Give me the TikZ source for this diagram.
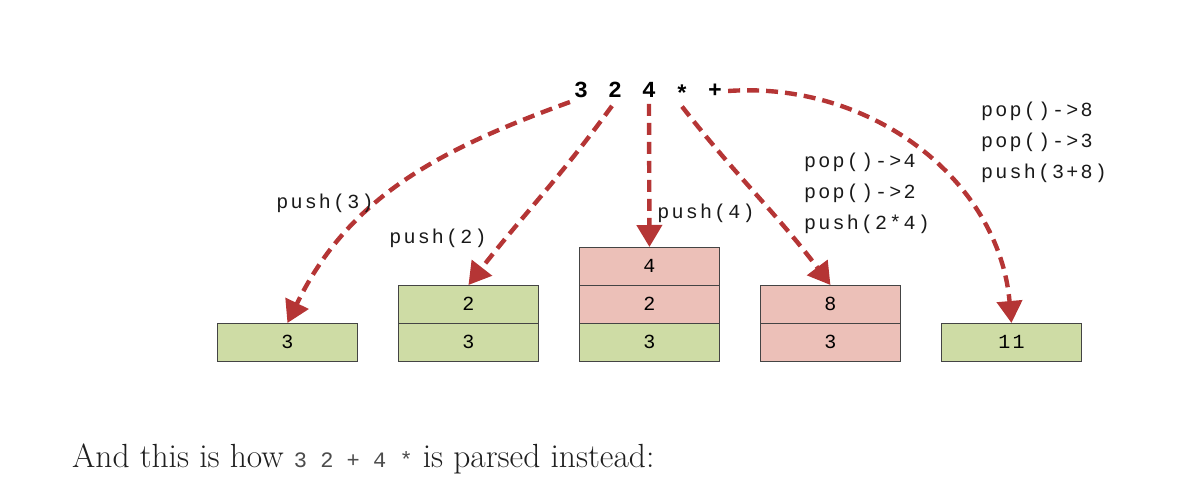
\documentclass[tikz,border=0pt]{standalone}
\usepackage{fontspec}
\usetikzlibrary{arrows.meta}
\newfontfamily\codefont{Liberation Mono}
\newfontfamily\spcode[LetterSpace=11]{Liberation Mono}
\definecolor{cellgreen}{HTML}{CEDCA5}
\definecolor{cellpink}{HTML}{ECC0B8}
\definecolor{arrred}{HTML}{B53535}
\definecolor{celledge}{HTML}{444444}
\begin{document}
\begin{tikzpicture}[x=1pt,y=-1pt,
  cell/.style={draw=celledge,line width=0.9pt,minimum width=140pt,minimum height=37.7pt,inner sep=0pt,anchor=north west,font=\spcode\fontsize{20}{20}\selectfont},
  gcell/.style={cell,fill=cellgreen},
  pcell/.style={cell,fill=cellpink},
  tok/.style={font=\codefont\bfseries\fontsize{23}{23}\selectfont,inner sep=2pt},
  lbl/.style={font=\spcode\fontsize{20}{20}\selectfont,inner sep=0pt,text=black!90},
  mlbl/.style={lbl,align=left,anchor=north west},
  flow/.style={draw=arrred,line width=4.4pt,dash pattern=on 12pt off 7pt,-{Triangle[length=22pt,width=25pt]}}]
\useasboundingbox (0,0) rectangle (1184,490);
% tokens
\node[tok] (t3) at (581,90) {3};
\node[tok] (t2) at (615,90) {2};
\node[tok] (t4) at (649,90) {4};
\node[tok] (tm) at (682,93) {*};
\node[tok] (tp) at (715,91) {+};
% stacks
\node[gcell] (a1) at (217,323) {3};
\node[gcell] (b2) at (398,285) {2};
\node[gcell] (b1) at (398,323) {3};
\node[pcell] (c3) at (579,247) {4};
\node[pcell] (c2) at (579,285) {2};
\node[gcell] (c1) at (579,323) {3};
\node[pcell] (d2) at (760,285) {8};
\node[pcell] (d1) at (760,323) {3};
\node[gcell] (e1) at (941,323) {11};
% arrows
\draw[flow] ([xshift=-2pt,yshift=-2pt]t3.south west) to[out=200,in=64] (a1.north);
\draw[flow] ([xshift=-3pt,yshift=-6pt]t2.south) to[out=234,in=52] (b2.north);
\draw[flow] ([yshift=-4pt]t4.south) -- (c3.north);
\draw[flow] ([yshift=-3pt]tm.south) to[out=-52,in=127] (d2.north);
\draw[flow] ([xshift=4pt]tp.east) to[out=4,in=95] (e1.north);
% labels
\node[lbl] (l1) at (325,203) {push(3)};
\node[lbl] (l2) at (438,238) {push(2)};
\node[lbl] (l3) at (706,213) {push(4)};
\node[mlbl] (l4) at (804,153) {pop()->4\\[11pt]pop()->2\\[11pt]push(2*4)};
\node[mlbl] (l5) at (981,102) {pop()->8\\[11pt]pop()->3\\[11pt]push(3+8)};
% caption
\node[anchor=base west,inner sep=0pt,font=\fontsize{33.5}{33.5}\selectfont,text=black!88] (cap) at (72,467) {And this is how {\codefont\fontsize{22}{22}\selectfont\color{black!70}3 2 + 4 *} is parsed instead:};
\end{tikzpicture}
\end{document}
